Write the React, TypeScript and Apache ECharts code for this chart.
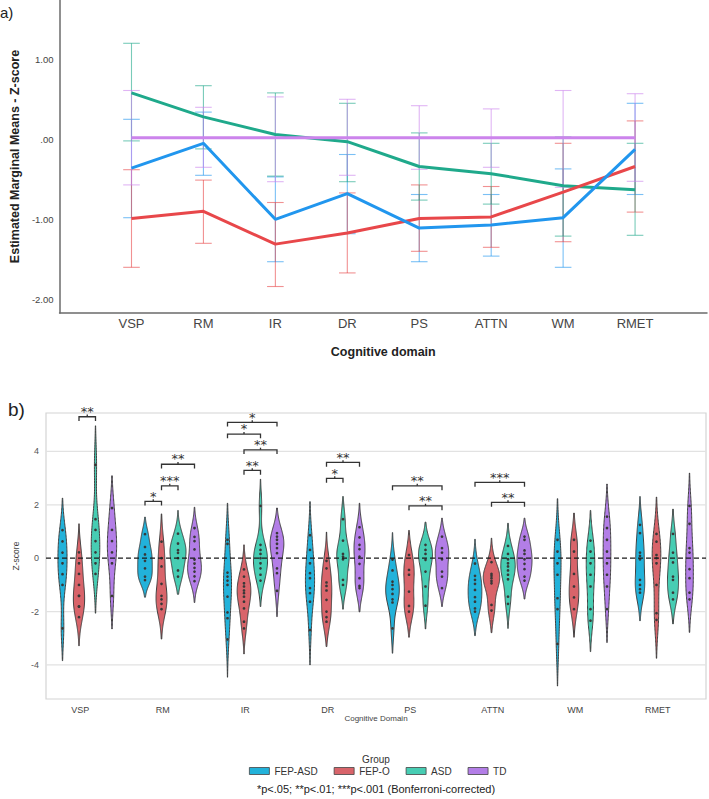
import React, { useEffect, useRef } from "react";
import * as echarts from "echarts";

const domains = ["VSP", "RM", "IR", "DR", "PS", "ATTN", "WM", "RMET"];
const groups = ["FEP-ASD", "FEP-O", "ASD", "TD"];

// ---- a) Estimated marginal means (z-score) with 95% CI ----
const emmFepAsd = [-0.36, -0.05, -1.0, -0.68, -1.11, -1.07, -0.98, -0.125];
const ciLowFepAsd = [-0.98, -0.45, -1.53, -1.18, -1.53, -1.46, -1.6, -0.69];
const ciHighFepAsd = [0.25, 0.34, -0.47, -0.19, -0.69, -0.69, -0.37, 0.45];

const emmFepO = [-0.99, -0.9, -1.31, -1.17, -0.99, -0.97, -0.66, -0.34];
const ciLowFepO = [-1.6, -1.3, -1.84, -1.67, -1.4, -1.35, -1.28, -0.91];
const ciHighFepO = [-0.38, -0.51, -0.79, -0.67, -0.57, -0.59, -0.05, 0.23];

const emmAsd = [0.58, 0.28, 0.06, -0.03, -0.34, -0.43, -0.58, -0.63];
const ciLowAsd = [-0.02, -0.12, -0.46, -0.53, -0.76, -0.81, -1.21, -1.2];
const ciHighAsd = [1.2, 0.67, 0.58, 0.45, 0.08, -0.05, 0.03, -0.05];

const emmTd = [0.02, 0.02, 0.02, 0.02, 0.02, 0.02, 0.02, 0.02];
const ciLowTd = [-0.57, -0.35, -0.53, -0.45, -0.375, -0.35, -0.6, -0.525];
const ciHighTd = [0.61, 0.4, 0.53, 0.5, 0.42, 0.38, 0.61, 0.57];

const yTicksA = [-2, -1, 0, 1];
const yTickLabelsA = ["-2.00", "-1.00", ".00", "1.00"];

// ---- b) Individual z-scores per domain (violin + points) ----
const pointsFepAsd = [
  [1.05, 0.63, 0.21, -0.19, -0.6, -1.0, -2.63],
  [0.9, 0.42, 0.14, -0.1, -0.38, -0.69, -0.82],
  [0.69, 0.54, -0.54, -0.69, -0.84, -1.0, -1.44, -2.03, -2.25, -3.04],
  [0.86, 0.31, -0.19, -0.56, -0.75, -1.12, -1.31, -1.63, -2.69],
  [-0.05, -0.46, -0.88, -1.0, -1.16, -1.34, -1.54, -1.66, -2.63],
  [-0.2, -0.66, -0.81, -0.96, -1.19, -1.46, -1.63, -1.88, -2.0],
  [0.69, 0.25, -0.19, -0.62, -1.5, -1.91, -3.21],
  [1.25, 0.94, 0.21, 0.09, -0.04, -0.81, -1.0, -1.16, -1.29],
];
const tipsFepAsd = [[-3.84, 2.25], [-1.46, 1.54], [-4.46, 2.06], [-4.0, 2.12], [-3.56, 0.96], [-2.9, 0.71], [-4.79, 2.23], [-2.34, 2.31]];

const pointsFepO = [
  [0.22, -0.19, -0.59, -1.0, -1.41, -1.41, -1.81, -1.81, -2.21],
  [0.62, 0.0, -0.31, -0.96, -1.41, -1.54, -1.71, -1.91],
  [-0.42, -0.69, -0.94, -1.06, -1.21, -1.31, -1.44, -1.63, -1.88, -2.38, -2.63],
  [-0.1, -0.38, -0.91, -1.04, -1.21, -1.56, -2.0, -2.21, -2.38],
  [0.12, -0.44, -0.62, -1.25, -1.79, -2.0],
  [-0.15, -0.59, -0.66, -0.75, -0.85, -0.94, -1.75, -1.96],
  [0.69, 0.25, -0.59, -1.06, -1.47, -1.91],
  [0.91, 0.62, 0.12, 0.0, -0.19, -1.0, -2.06, -2.31],
];
const tipsFepO = [[-3.28, 1.29], [-3.03, 1.66], [-3.59, 0.5], [-3.31, 0.98], [-2.96, 1.04], [-2.79, 0.75], [-2.96, 1.69], [-3.75, 2.29]];

const pointsAsd = [
  [3.5, 1.46, 1.06, 0.64, 0.22, -0.19, -0.59],
  [0.92, 0.55, 0.3, 0.2, 0.0, -0.46, -0.69],
  [1.96, 0.5, 0.31, 0.16, 0.0, -0.19, -0.38, -0.62, -0.84],
  [1.46, 0.66, 0.16, 0.06, -0.04, -0.81, -1.0],
  [0.5, 0.31, 0.16, -0.06, -0.5, -1.06, -1.78],
  [0.46, 0.16, -0.04, -0.19, -0.31, -0.46, -0.62, -0.79, -1.44, -1.71],
  [0.66, 0.25, -0.19, -0.62, -1.06, -1.91, -2.34],
  [0.91, 0.21, -0.16, -0.69, -0.81, -1.29, -1.54],
];
const tipsAsd = [[-2.06, 4.96], [-1.35, 1.79], [-1.81, 2.96], [-1.91, 2.31], [-2.65, 1.35], [-2.63, 1.31], [-3.5, 1.79], [-2.46, 1.84]];

const pointsTd = [
  [1.88, 1.06, 0.64, 0.22, -0.19, -1.41],
  [1.13, 0.8, 0.64, 0.33, -0.05, -0.2, -0.36, -0.5, -0.68, -0.86],
  [0.94, 0.81, 0.69, 0.54, 0.38, 0.19, -0.38, -0.56, -1.22],
  [1.16, 0.78, 0.5, 0.34, 0.06, -0.21, -0.75, -1.04, -1.12],
  [0.81, 0.38, 0.21, -0.04, -0.5, -0.69, -1.12],
  [0.81, 0.69, 0.29, 0.16, -0.04, -0.21, -0.41, -0.69, -0.84],
  [1.56, 1.13, 0.69, 0.25, -0.19, -0.62, -1.06, -1.91],
  [1.96, 1.29, 0.38, 0.21, -0.41, -0.75, -1.29, -1.54],
];
const tipsTd = [[-2.65, 3.09], [-1.66, 1.91], [-2.19, 1.88], [-2.01, 2.06], [-1.81, 1.5], [-1.53, 1.5], [-3.16, 2.78], [-2.78, 3.19]];

// significance brackets: domain, group pair, bracket height, stars
const bracketDomain = [0, 1, 1, 1, 2, 2, 2, 2, 3, 3, 4, 4, 5, 5];
const bracketFrom = [1, 0, 1, 1, 0, 0, 1, 1, 1, 1, 0, 1, 0, 1];
const bracketTo = [2, 1, 2, 3, 3, 2, 3, 2, 2, 3, 3, 3, 3, 3];
const bracketLevel = [5.3, 2.13, 2.71, 3.52, 5.09, 4.65, 4.06, 3.29, 2.99, 3.59, 2.71, 1.96, 2.84, 2.09];
const bracketLabel = ["**", "*", "***", "**", "*", "*", "**", "**", "*", "**", "**", "**", "***", "**"];

const yTicksB = [-4, -2, 0, 2, 4];
const gridLinesB = [-4, -2, 2, 4];

const lineColors = ["#2196ee", "#e8474a", "#1fa98b", "#cc84ec"];
const violinColors = ["#22b2da", "#d8646a", "#47cdb3", "#b37ee7"];

const FONT = "'Liberation Sans', Arial, sans-serif";
const STAR_FONT = "'DejaVu Sans', sans-serif";

const emmByGroup = [emmFepAsd, emmFepO, emmAsd, emmTd];
const ciLowByGroup = [ciLowFepAsd, ciLowFepO, ciLowAsd, ciLowTd];
const ciHighByGroup = [ciHighFepAsd, ciHighFepO, ciHighAsd, ciHighTd];
const pointsByGroup = [pointsFepAsd, pointsFepO, pointsAsd, pointsTd];
const tipsByGroup = [tipsFepAsd, tipsFepO, tipsAsd, tipsTd];

// Gaussian KDE over [lo, hi]; bandwidth follows from cut = 2 bandwidths past the extreme points
function kdeProfile(points: number[], lo: number, hi: number, steps = 120): [number, number][] {
  const mn = Math.min(...points);
  const mx = Math.max(...points);
  const bw = (hi - mx + (mn - lo)) / 4;
  const norm = 1 / (points.length * bw * Math.sqrt(2 * Math.PI));
  const out: [number, number][] = [];
  for (let k = 0; k <= steps; k++) {
    const y = lo + ((hi - lo) * k) / steps;
    let s = 0;
    for (const p of points) {
      const z = (y - p) / bw;
      s += Math.exp(-0.5 * z * z);
    }
    out.push([y, s * norm]);
  }
  return out;
}

const profiles = pointsByGroup.map((gp, g) =>
  gp.map((pts, i) => kdeProfile(pts, tipsByGroup[g][i][0], tipsByGroup[g][i][1]))
);
// common density scale so that every violin encloses the same area
let maxDensity = 0;
profiles.forEach((gp) => gp.forEach((prof) => prof.forEach(([, d]) => { if (d > maxDensity) maxDensity = d; })));

function buildOption(): any {
  const series: any[] = [];

  // a) error bars
  groups.forEach((name, g) => {
    series.push({
      type: "custom",
      name: name + " CI",
      xAxisIndex: 0,
      yAxisIndex: 0,
      silent: true,
      itemStyle: { color: lineColors[g] },
      encode: { x: 0, y: [1, 2] },
      data: domains.map((_, i) => [i + 1, ciLowByGroup[g][i], ciHighByGroup[g][i]]),
      renderItem: (params: any, api: any) => {
        const x = api.value(0);
        const p1 = api.coord([x, api.value(1)]);
        const p2 = api.coord([x, api.value(2)]);
        const cap = 8.3;
        const style = { stroke: lineColors[g], lineWidth: 1.1, opacity: 0.6 };
        return {
          type: "group",
          children: [
            { type: "line", shape: { x1: p1[0], y1: p1[1], x2: p2[0], y2: p2[1] }, style },
            { type: "line", shape: { x1: p1[0] - cap, y1: p1[1], x2: p1[0] + cap, y2: p1[1] }, style },
            { type: "line", shape: { x1: p2[0] - cap, y1: p2[1], x2: p2[0] + cap, y2: p2[1] }, style },
          ],
        };
      },
    });
  });

  // a) mean lines
  [2, 3, 1, 0].forEach((g) => {
    series.push({
      type: "line",
      name: groups[g] + " EMM",
      xAxisIndex: 0,
      yAxisIndex: 0,
      silent: true,
      symbol: "none",
      lineStyle: { color: lineColors[g], width: 3 },
      data: emmByGroup[g].map((v, i) => [i + 1, v]),
    });
  });

  // b) horizontal grid lines
  series.push({
    type: "custom",
    name: "grid",
    xAxisIndex: 1,
    yAxisIndex: 1,
    silent: true,
    itemStyle: { color: "#e2e2e2" },
    encode: { x: 0, y: 1 },
    data: gridLinesB.map((v) => [0, v]),
    renderItem: (params: any, api: any) => {
      const cs = params.coordSys;
      const y = api.coord([0, api.value(1)])[1];
      return {
        type: "line",
        shape: { x1: cs.x, y1: y, x2: cs.x + cs.width, y2: y },
        style: { stroke: "#e2e2e2", lineWidth: 1.2 },
      };
    },
  });

  // b) violins
  groups.forEach((name, g) => {
    series.push({
      type: "custom",
      name,
      xAxisIndex: 1,
      yAxisIndex: 1,
      silent: true,
      itemStyle: { color: violinColors[g], borderColor: "#444", borderWidth: 0.8 },
      encode: { x: 0, y: 1 },
      data: domains.map((_, i) => [i, 0]),
      renderItem: (params: any, api: any) => {
        const i = api.value(0);
        const band = api.size([1, 0])[0];
        const cx = api.coord([i, 0])[0] + (g - 1.5) * 0.2 * band;
        const half = 0.1 * band;
        const prof = profiles[g][i];
        const right = prof.map(([y, d]) => [cx + (d / maxDensity) * half, api.coord([i, y])[1]]);
        const left = prof
          .slice()
          .reverse()
          .map(([y, d]) => [cx - (d / maxDensity) * half, api.coord([i, y])[1]]);
        const children: any[] = [
          {
            type: "polygon",
            shape: { points: right.concat(left) },
            style: { fill: violinColors[g], stroke: "#3f3f3f", lineWidth: 1 },
          },
        ];
        pointsByGroup[g][i].forEach((p) => {
          const py = api.coord([i, p])[1];
          children.push({ type: "circle", shape: { cx, cy: py, r: 1.35 }, style: { fill: "#383838" } });
        });
        return { type: "group", children };
      },
    });
  });

  // b) zero reference line
  series.push({
    type: "custom",
    name: "zero",
    xAxisIndex: 1,
    yAxisIndex: 1,
    silent: true,
    itemStyle: { color: "#1a1a1a" },
    encode: { x: 0, y: 1 },
    data: [[0, 0]],
    renderItem: (params: any, api: any) => {
      const cs = params.coordSys;
      const y = api.coord([0, api.value(1)])[1];
      return {
        type: "line",
        shape: { x1: cs.x, y1: y, x2: cs.x + cs.width, y2: y },
        style: { stroke: "#1a1a1a", lineWidth: 1.3, lineDash: [5, 3] },
      };
    },
  });

  // b) significance brackets
  series.push({
    type: "custom",
    name: "brackets",
    xAxisIndex: 1,
    yAxisIndex: 1,
    silent: true,
    clip: false,
    itemStyle: { color: "#333" },
    encode: { x: 0, y: 1 },
    data: bracketLevel.map((v, k) => [bracketDomain[k], v]),
    renderItem: (params: any, api: any) => {
      const k = params.dataIndex;
      const d = api.value(0);
      const lvl = api.value(1);
      const band = api.size([1, 0])[0];
      const c = api.coord([d, lvl]);
      const xa = c[0] + (bracketFrom[k] - 1.5) * 0.2 * band;
      const xb = c[0] + (bracketTo[k] - 1.5) * 0.2 * band;
      const yEnd = api.coord([d, lvl - 0.16])[1];
      const yTop = api.coord([d, lvl + 0.08])[1];
      const yText = api.coord([d, lvl + 0.32])[1];
      const xm = (xa + xb) / 2;
      const style = { stroke: "#333", lineWidth: 1.3 };
      return {
        type: "group",
        children: [
          { type: "polyline", shape: { points: [[xa, yEnd], [xa, c[1]], [xb, c[1]], [xb, yEnd]] }, style: { ...style, fill: null } },
          { type: "line", shape: { x1: xm, y1: c[1], x2: xm, y2: yTop }, style },
          {
            type: "text",
            style: {
              text: bracketLabel[k],
              x: xm,
              y: yText + 3.2,
              align: "center",
              verticalAlign: "middle",
              fontSize: 13,
              fontFamily: STAR_FONT,
              fill: "#333",
            },
          },
        ],
      };
    },
  });

  return {
    animation: false,
    backgroundColor: "#fff",
    grid: [
      { left: 56, right: 2, top: 0, bottom: 486 },
      { left: 46, right: 3, top: 413, bottom: 100, show: true, borderColor: "#d4d4d4", borderWidth: 1.2 },
    ],
    xAxis: [
      {
        type: "value",
        gridIndex: 0,
        min: 0,
        max: 9,
        axisLine: { show: true, onZero: false, lineStyle: { color: "#6b6b6b", width: 1.5 } },
        axisTick: { show: false },
        splitLine: { show: false },
        axisLabel: {
          customValues: domains.map((_, i) => i + 1),
          formatter: (v: number) => domains[Math.round(v) - 1] ?? "",
          fontSize: 13,
          color: "#454545",
          fontFamily: FONT,
          margin: 4,
        },
        name: "Cognitive domain",
        nameLocation: "middle",
        nameGap: 32,
        nameTextStyle: { fontSize: 12.5, fontWeight: "bold", color: "#222", fontFamily: FONT },
      },
      {
        type: "category",
        gridIndex: 1,
        data: domains,
        boundaryGap: true,
        axisLine: { show: false },
        axisTick: { show: false },
        axisLabel: { fontSize: 9, color: "#444", fontFamily: FONT, margin: 6, padding: [0, 14, 0, 0] },
        name: "Cognitive Domain",
        nameLocation: "middle",
        nameGap: 15,
        nameTextStyle: { fontSize: 8, color: "#444", fontFamily: FONT },
      },
    ],
    yAxis: [
      {
        type: "value",
        gridIndex: 0,
        min: -2.171,
        max: 1.741,
        axisLine: { show: true, onZero: false, lineStyle: { color: "#6b6b6b", width: 1.5 } },
        axisTick: { show: false },
        splitLine: { show: false },
        axisLabel: {
          customValues: yTicksA,
          formatter: (v: number) => yTickLabelsA[yTicksA.indexOf(Math.round(v))] ?? "",
          fontSize: 9.5,
          color: "#444",
          fontFamily: FONT,
          margin: 6,
        },
        name: "Estimated Marginal Means - Z-score",
        nameLocation: "middle",
        nameGap: 35,
        nameTextStyle: { fontSize: 12.5, fontWeight: "bold", color: "#222", fontFamily: FONT },
      },
      {
        type: "value",
        gridIndex: 1,
        min: -5.275,
        max: 5.44,
        axisLine: { show: false },
        axisTick: { show: false },
        splitLine: { show: false },
        axisLabel: {
          customValues: yTicksB,
          formatter: (v: number) => String(Math.round(v)),
          fontSize: 9,
          color: "#555",
          fontFamily: FONT,
          margin: 7,
        },
        name: "Z-score",
        nameLocation: "middle",
        nameGap: 20,
        nameTextStyle: { fontSize: 8.5, color: "#444", fontFamily: FONT },
      },
    ],
    legend: {
      data: groups.map((name, g) => ({
        name,
        icon: "rect",
        itemStyle: { color: violinColors[g], borderColor: "#444", borderWidth: 0.8 },
      })),
      left: 249,
      top: 766,
      padding: 0,
      itemWidth: 20,
      itemHeight: 7,
      itemGap: 16,
      selectedMode: false,
      textStyle: { fontSize: 10, color: "#333", fontFamily: FONT },
    },
    graphic: [
      { type: "text", left: 0, top: 5, style: { text: "a)", fontSize: 15, fill: "#222", fontFamily: FONT } },
      { type: "text", left: 8, top: 400, style: { text: "b)", fontSize: 19, fill: "#222", fontFamily: FONT } },
      {
        type: "text",
        x: 376,
        y: 759,
        style: { text: "Group", fontSize: 10, fill: "#333", fontFamily: FONT, align: "center", verticalAlign: "middle" },
      },
      {
        type: "text",
        x: 376,
        y: 789,
        style: {
          text: "*p<.05; **p<.01; ***p<.001 (Bonferroni-corrected)",
          fontSize: 11,
          fill: "#222",
          fontFamily: FONT,
          align: "center",
          verticalAlign: "middle",
        },
      },
    ],
    series,
  };
}

export default function App() {
  const ref = useRef<HTMLDivElement>(null);
  useEffect(() => {
    if (!ref.current) return;
    const chart = echarts.init(ref.current, undefined, { renderer: "svg" });
    chart.setOption(buildOption());
    return () => chart.dispose();
  }, []);
  return <div ref={ref} style={{ position: "absolute", left: 0, top: 0, width: 709, height: 799 }} />;
}
